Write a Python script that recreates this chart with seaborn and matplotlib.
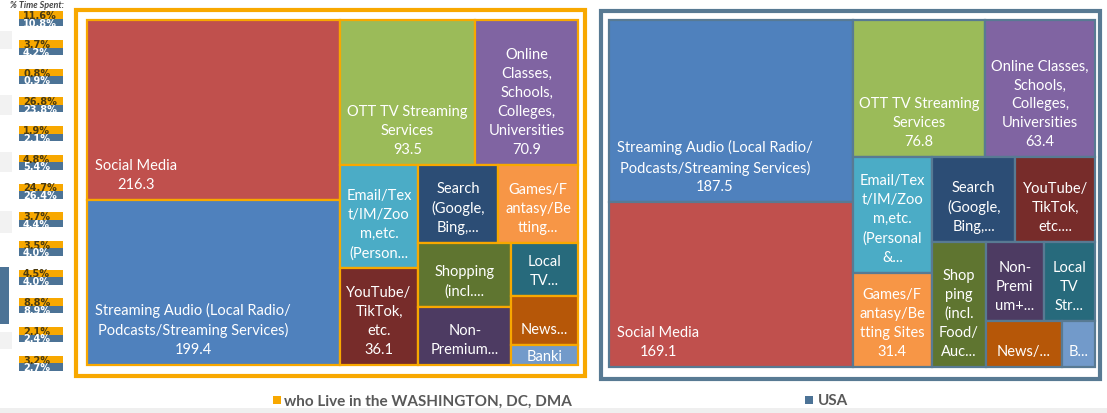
import numpy as np
import pandas as pd
import matplotlib
import matplotlib.pyplot as plt
from matplotlib.patches import Rectangle
import seaborn as sns

sns.set_theme(style='white')
plt.rcParams['font.family'] = ['Lato', 'DejaVu Sans']

# Categories and minutes per day (read from the tiles / estimated from % share)
categories = ['Social Media', 'Streaming Audio', 'OTT TV Streaming Services', 'Online Classes',
              'Email/Text/IM/Zoom', 'Search', 'Games/Fantasy/Betting Sites', 'YouTube/TikTok',
              'Shopping', 'Non-Premium+', 'Local TV Streaming', 'News', 'Banking']
minutes_dc = [216.3, 199.4, 93.5, 70.9, 38.7, 29.9, 29.8, 36.1, 28.2, 25.8, 16.9, 15.3, 6.5]
minutes_usa = [169.1, 187.5, 76.8, 63.4, 38.4, 29.8, 31.4, 28.4, 28.4, 19.2, 17.0, 14.9, 6.4]

# Tile labels as shown (truncated the way the dashboard truncates them)
labels_dc = ['Social Media\n216.3',
             'Streaming Audio (Local Radio/\nPodcasts/Streaming Services)\n199.4',
             'OTT TV Streaming\nServices\n93.5',
             'Online\nClasses,\nSchools,\nColleges,\nUniversities\n70.9',
             'Email/Tex\nt/IM/Zoo\nm,etc.\n(Person...',
             'Search\n(Google,\nBing,...',
             'Games/F\nantasy/Be\ntting...',
             'YouTube/\nTikTok,\netc.\n36.1',
             'Shopping\n(incl....',
             'Non-\nPremium...',
             'Local\nTV...',
             'News...',
             'Banki']
labels_usa = ['Social Media\n169.1',
              'Streaming Audio (Local Radio/\nPodcasts/Streaming Services)\n187.5',
              'OTT TV Streaming\nServices\n76.8',
              'Online Classes,\nSchools,\nColleges,\nUniversities\n63.4',
              'Email/Tex\nt/IM/Zoo\nm,etc.\n(Personal\n&...',
              'Search\n(Google,\nBing,...',
              'Games/F\nantasy/Be\ntting Sites\n31.4',
              'YouTube/\nTikTok,\netc....',
              'Shop\nping\n(incl.\nFood/\nAuc...',
              'Non-\nPremi\num+...',
              'Local\nTV\nStr...',
              'News/...',
              'B...']
tile_colors = ['#C0504D', '#4F81BD', '#9BBB59', '#8064A2', '#4BACC6', '#2C4D75', '#F79646',
               '#772C2A', '#5F7530', '#4D3B62', '#276A7C', '#B65708', '#729ACA']

# "% Time Spent" strip on the left
strip_cats = ['OTT TV Streaming Services', 'Search', 'Banking', 'Social Media', 'News',
              'Email/Text/IM/Zoom', 'Streaming Audio', 'Games/Fantasy/Betting Sites', 'Shopping',
              'YouTube/TikTok', 'Online Classes', 'Local TV Streaming', 'Non-Premium+']
pct_dc = [11.6, 3.7, 0.8, 26.8, 1.9, 4.8, 24.7, 3.7, 3.5, 4.5, 8.8, 2.1, 3.2]
pct_usa = [10.8, 4.2, 0.9, 23.8, 2.1, 5.4, 26.4, 4.4, 4.0, 4.0, 8.9, 2.4, 2.7]

legend_labels = ['who Live in the WASHINGTON, DC, DMA', 'USA']

ORANGE = '#F8A800'
SLATE = '#587A93'
BOX_BLUE = '#4C7396'
LINE_PX = 19.5


def worst(row, side, column, wide_penalty):
    thick = sum(row) / side
    out = 0
    for a in row:
        length = a / thick
        bw, bh = (thick, length) if column else (length, thick)
        r = bw / bh
        out = max(out, r * wide_penalty if r >= 1 else 1 / r)
    return out


def squarify(values, width, height, wide_penalty=1.4):
    # squarified treemap, slightly biased against wide tiles like the source tool
    total = sum(values)
    order = sorted(range(len(values)), key=lambda i: -values[i])
    areas = [values[i] / total * width * height for i in order]
    rects = {}
    x, y, w, h = 0.0, 0.0, float(width), float(height)
    k = 0
    while k < len(areas):
        column = w >= h
        side = h if column else w
        row = [areas[k]]
        best = worst(row, side, column, wide_penalty)
        j = k + 1
        while j < len(areas):
            s = worst(row + [areas[j]], side, column, wide_penalty)
            if s > best:
                break
            row.append(areas[j])
            best = s
            j += 1
        thick = sum(row) / side
        pos = 0.0
        for n, a in enumerate(row):
            length = a / thick
            idx = order[k + n]
            if column:
                rects[idx] = (x, y + pos, thick, length)
            else:
                rects[idx] = (x + pos, y, length, thick)
            pos += length
        if column:
            x += thick
            w -= thick
        else:
            y += thick
            h -= thick
        k = j
    return rects


def draw_treemap(ax, values, labels, edge, width, height):
    ax.set_xlim(0, width)
    ax.set_ylim(height, 0)
    ax.axis('off')
    rects = squarify(values, width, height)
    for i, (x, y, w, h) in rects.items():
        r = Rectangle((x, y), w, h, facecolor=tile_colors[i], edgecolor=edge, lw=1.6, clip_on=False)
        ax.add_patch(r)
        n = labels[i].count('\n') + 1
        text_h = n * LINE_PX - 4
        pad = min(9, max((h - text_h) / 2, 0))
        if w > 200:
            tx, ha = x + 8, 'left'
        else:
            tx, ha = x + w / 2, 'center'
        t = ax.text(tx, y + h - pad, labels[i], ha=ha, va='bottom', multialignment='center',
                    color='white', fontsize=10.5, linespacing=1.45)
        t.set_clip_path(r)


fig = plt.figure(figsize=(11.07, 4.14), dpi=100)
fig.patch.set_facecolor('white')
base = fig.add_axes([0, 0, 1, 1])
base.set_xlim(0, 1107)
base.set_ylim(414, 0)
base.axis('off')

# faint leftovers of the neighbouring panel
for y0, y1 in [(32, 50), (96, 116), (153, 173), (212, 234), (333, 350)]:
    base.add_patch(Rectangle((0, y0), 12, y1 - y0, facecolor='#F2F2F2', lw=0))
base.add_patch(Rectangle((0, 268), 9, 57, facecolor=BOX_BLUE, lw=0))
base.add_patch(Rectangle((0, 409), 1107, 5, facecolor='#EFEFEF', lw=0))

# % time spent strip
base.text(10, 5.5, '% Time Spent:', fontsize=6.5, style='italic', fontweight='bold',
          color='#444444', va='center')
for i, (p_dc, p_usa) in enumerate(zip(pct_dc, pct_usa)):
    top = 12.3 + 28.7 * i
    base.add_patch(Rectangle((18.5, top), 44.5, 7.5, facecolor=ORANGE, lw=0))
    base.add_patch(Rectangle((18.5, top + 7.5), 44.5, 7.5, facecolor=BOX_BLUE, lw=0))
    base.text(23, top + 6.9, f'{p_dc:.1f}%', fontsize=7, family='DejaVu Sans',
              fontweight='bold', color='#4A3A10', va='baseline')
    base.text(23, top + 14.5, f'{p_usa:.1f}%', fontsize=7, family='DejaVu Sans',
              fontweight='bold', color='white', va='baseline')

# frames
base.add_patch(Rectangle((76, 11), 585 - 76, 377 - 11, fill=False, ec=ORANGE, lw=3))
base.add_patch(Rectangle((600.5, 12), 1100 - 600.5, 379.5 - 12, fill=False, ec=SLATE, lw=3))

# treemaps
W, H = 1107, 414
dc_box = (87, 21, 578, 366)
usa_box = (609, 21, 1095, 368)
ax_dc = fig.add_axes([dc_box[0] / W, 1 - dc_box[3] / H, (dc_box[2] - dc_box[0]) / W, (dc_box[3] - dc_box[1]) / H])
draw_treemap(ax_dc, minutes_dc, labels_dc, ORANGE, dc_box[2] - dc_box[0], dc_box[3] - dc_box[1])
ax_usa = fig.add_axes([usa_box[0] / W, 1 - usa_box[3] / H, (usa_box[2] - usa_box[0]) / W, (usa_box[3] - usa_box[1]) / H])
draw_treemap(ax_usa, minutes_usa, labels_usa, SLATE, usa_box[2] - usa_box[0], usa_box[3] - usa_box[1])

# legend
base.add_patch(Rectangle((273, 397), 8, 8, facecolor=ORANGE, lw=0))
base.text(284, 401.5, legend_labels[0], fontsize=11, fontweight='bold', color='#595959', va='center')
base.add_patch(Rectangle((805, 397), 8, 8, facecolor=BOX_BLUE, lw=0))
base.text(818, 401.5, legend_labels[1], fontsize=11, fontweight='bold', color='#595959', va='center')

fig.savefig('out.png', dpi=100, facecolor='white')
